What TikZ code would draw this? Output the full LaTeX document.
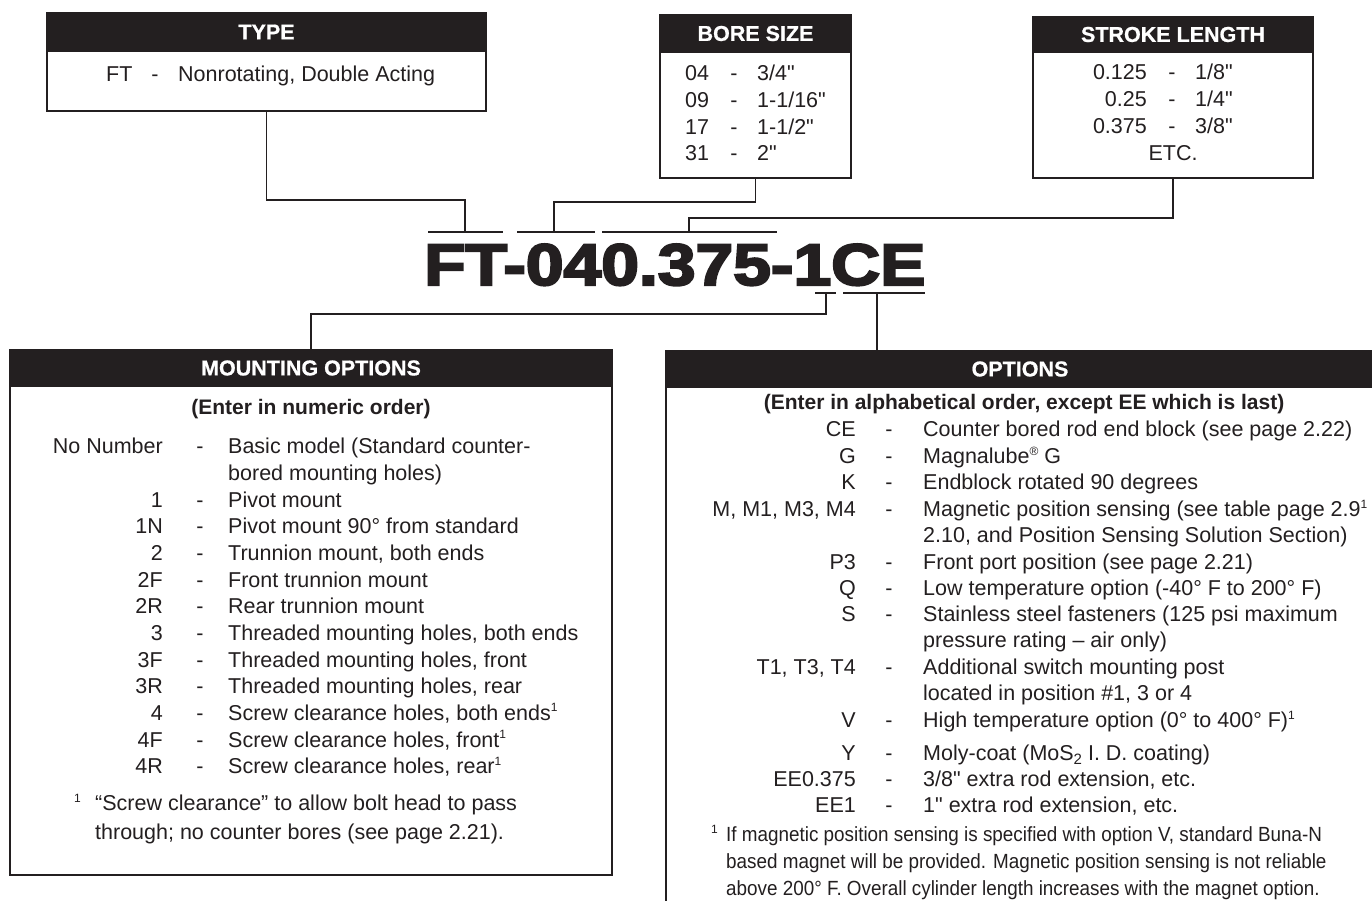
\documentclass[tikz,border=0pt]{standalone}
\usepackage{fontspec}
\setmainfont{Liberation Sans}
\newfontfamily\codefont{Liberation Sans Bold}[FakeBold=3.5]
\newfontfamily\headfont{Liberation Sans Bold}[FakeBold=0.8]
\newfontfamily\plainfont{Liberation Sans}
\definecolor{ink}{HTML}{231F20}
\newcommand\inch{{\plainfont"}}
\newcommand\myfn{\raisebox{0.75ex}{\fontsize{12}{12}\selectfont 1}}
\newcommand\myreg{\raisebox{0.75ex}{\fontsize{12}{12}\selectfont ®}}
\newcommand\mysubtwo{\raisebox{-0.35ex}{\fontsize{15}{15}\selectfont 2}}
\newcommand\cond[1]{\scalebox{0.92}[1]{#1}}
% mounting row: name, baseline, code, text
\newcommand\mrow[4]{%
  \node[txt,anchor=base east] (#1a) at (163,#2) {#3};
  \node[txt,anchor=base] (#1b) at (200,#2) {-};
  \node[txt,anchor=base west] (#1c) at (228,#2) {#4};}
\newcommand\orow[4]{%
  \node[txt,anchor=base east] (#1a) at (856,#2) {#3};
  \node[txt,anchor=base] (#1b) at (889,#2) {-};
  \node[txt,anchor=base west] (#1c) at (923,#2) {#4};}
\begin{document}
\begin{tikzpicture}[x=1pt,y=-1pt,
  boxst/.style={draw=ink, line width=1.6pt, fill=white, inner sep=0, outer sep=0, anchor=north west},
  head/.style={fill=ink, draw=ink, line width=1.6pt, inner sep=0, outer sep=0, anchor=north west},
  htext/.style={text=white, font=\headfont\fontsize{21.5}{24}\selectfont, inner sep=0},
  txt/.style={inner sep=0, text=ink, font=\fontsize{21.5}{26}\selectfont},
  btxt/.style={inner sep=0, text=ink, font=\bfseries\fontsize{21}{26}\selectfont},
  ftxt/.style={inner sep=0, text=ink, font=\fontsize{20.5}{24}\selectfont},
  conn/.style={draw=ink, line width=1.8pt},
  uline/.style={draw=ink, line width=2pt}]
\useasboundingbox (0,0) rectangle (1372,900);
\clip (0,0) rectangle (1372,900);
\fill[white] (0,0) rectangle (1372,900);

% ---------- TYPE ----------
\node[boxst, minimum width=439, minimum height=98] (typebox) at (47,13) {};
\node[head, minimum width=439, minimum height=38] (typehead) at (47,13) {};
\node[htext] (typet) at (typehead.center) {TYPE};
\node[txt,anchor=base west] (ty1) at (106,81.7) {FT};
\node[txt,anchor=base] (ty2) at (155,81.7) {-};
\node[txt,anchor=base west] (ty3) at (178,81.7) {Nonrotating, Double Acting};

% ---------- BORE SIZE ----------
\node[boxst, minimum width=191, minimum height=163] (borebox) at (660,15) {};
\node[head, minimum width=191, minimum height=37] (borehead) at (660,15) {};
\node[htext] (boret) at (borehead.center) {BORE SIZE};
\foreach \c/\v/\y [count=\i] in {04/3\slash4\inch/80.7, 09/1-1\slash16\inch/107.7, 17/1-1\slash2\inch/134.7, 31/2\inch/160.7}{
  \node[txt,anchor=base west] (bc\i) at (685,\y) {\c};
  \node[txt,anchor=base] (bd\i) at (734,\y) {-};
  \node[txt,anchor=base west] (bv\i) at (757,\y) {\v};
}

% ---------- STROKE LENGTH ----------
\node[boxst, minimum width=280, minimum height=161] (strokebox) at (1033,17) {};
\node[head, minimum width=280, minimum height=35] (strokehead) at (1033,17) {};
\node[htext] (strokett) at (strokehead.center) {STROKE LENGTH};
\foreach \c/\v/\y [count=\i] in {0.125/1\slash8\inch/79.7, 0.25/1\slash4\inch/106.7, 0.375/3\slash8\inch/133.7}{
  \node[txt,anchor=base east] (sc\i) at (1147,\y) {\c};
  \node[txt,anchor=base] (sd\i) at (1172,\y) {-};
  \node[txt,anchor=base west] (sv\i) at (1195,\y) {\v};
}
\node[txt,anchor=base] (setc) at (1173,160.7) {ETC.};

% ---------- CODE ----------
\node[inner sep=0, anchor=base west, text=ink] (code) at (424,285)
  {\codefont\fontsize{58.7}{60}\selectfont\scalebox{1.155}[1]{FT-040.375-1CE}};
\coordinate (uFT) at (465,232);
\coordinate (u04) at (554,232);
\coordinate (u0375) at (689,232);
\coordinate (u1) at (826,293);
\coordinate (uCE) at (877,293);
\draw[uline] (428,232) -- (503,232);
\draw[uline] (517,232) -- (595,232);
\draw[uline] (602,232) -- (777,232);
\draw[uline] (815,293) -- (836,293);
\draw[uline] (843,293) -- (925,293);

% ---------- MOUNTING OPTIONS ----------
\node[boxst, minimum width=602, minimum height=525] (mountbox) at (10,350) {};
\node[head, minimum width=602, minimum height=36] (mounthead) at (10,350) {};
\node[htext] (mountt) at (mounthead.center) {MOUNTING OPTIONS};
\node[btxt,anchor=base] (menter) at (311,414.5) {(Enter in numeric order)};
\mrow{m0}{453.7}{No Number}{Basic model (Standard counter-}
\node[txt,anchor=base west] (m0x) at (228,480.4) {bored mounting holes)};
\mrow{m1}{507}{1}{Pivot mount}
\mrow{m2}{533.7}{1N}{Pivot mount 90° from standard}
\mrow{m3}{560.4}{2}{Trunnion mount, both ends}
\mrow{m4}{587}{2F}{Front trunnion mount}
\mrow{m5}{613.7}{2R}{Rear trunnion mount}
\mrow{m6}{640.4}{3}{Threaded mounting holes, both ends}
\mrow{m7}{667}{3F}{Threaded mounting holes, front}
\mrow{m8}{693.7}{3R}{Threaded mounting holes, rear}
\mrow{m9}{720.4}{4}{Screw clearance holes, both ends\myfn}
\mrow{m10}{747}{4F}{Screw clearance holes, front\myfn}
\mrow{m11}{773.7}{4R}{Screw clearance holes, rear\myfn}
\node[txt,anchor=base east] (mfn0) at (81,810.7) {\myfn};
\node[txt,anchor=base west] (mfn1) at (95,810.7) {“Screw clearance” to allow bolt head to pass};
\node[txt,anchor=base west] (mfn2) at (95,839.7) {through; no counter bores (see page 2.21).};

% ---------- OPTIONS ----------
\node[boxst, minimum width=716, minimum height=569] (optbox) at (666,351) {};
\node[head, minimum width=716, minimum height=36] (opthead) at (666,351) {};
\node[htext] (optt) at ([xshift=-4pt]opthead.center) {OPTIONS};
\node[btxt,anchor=base] (oenter) at (1024,409.7) {(Enter in alphabetical order, except EE which is last)};
\orow{o1}{436.7}{CE}{Counter bored rod end block (see page 2.22)}
\orow{o2}{463.7}{G}{Magnalube\myreg\ G}
\orow{o3}{489.7}{K}{Endblock rotated 90 degrees}
\orow{o4}{516.7}{M, M1, M3, M4}{Magnetic position sensing (see table page 2.9\myfn}
\node[txt,anchor=base west] (o4x) at (923,542.7) {2.10, and Position Sensing Solution Section)};
\orow{o5}{569.7}{P3}{Front port position (see page 2.21)}
\orow{o6}{595.7}{Q}{Low temperature option (-40° F to 200° F)}
\orow{o7}{621.7}{S}{Stainless steel fasteners (125 psi maximum}
\node[txt,anchor=base west] (o7x) at (923,647.7) {pressure rating – air only)};
\orow{o8}{674.7}{T1, T3, T4}{Additional switch mounting post}
\node[txt,anchor=base west] (o8x) at (923,700.7) {located in position \#1, 3 or 4};
\orow{o9}{727.7}{V}{High temperature option (0° to 400° F)\myfn}
\orow{o10}{760.7}{Y}{Moly-coat (MoS\mysubtwo\ I. D. coating)}
\orow{o11}{786.7}{EE0.375}{3/8\inch\ extra rod extension, etc.}
\orow{o12}{812.7}{EE1}{1\inch\ extra rod extension, etc.}
\node[ftxt,anchor=base east] (ofn0) at (718,841.6) {\myfn};
\node[ftxt,anchor=base west] (ofn1) at (726,841.6) {\cond{If magnetic position sensing is specified with option V, standard Buna-N}};
\node[ftxt,anchor=base west] (ofn2) at (726,868.6) {\cond{based magnet will be provided. Magnetic position sensing is not reliable}};
\node[ftxt,anchor=base west] (ofn3) at (726,895.6) {\cond{above 200° F. Overall cylinder length increases with the magnet option.}};

% ---------- CONNECTORS ----------
\draw[conn] (typebox.south) -- ++(0,89) -| (uFT);
\draw[conn] (borebox.south) -- ++(0,24) -| (u04);
\draw[conn] (strokebox.south) -- ++(0,40) -| (u0375);
\draw[conn] (u1) -- ++(0,21) -| (mountbox.north);
\draw[conn] (uCE) -- (uCE |- optbox.north);
\end{tikzpicture}
\end{document}
